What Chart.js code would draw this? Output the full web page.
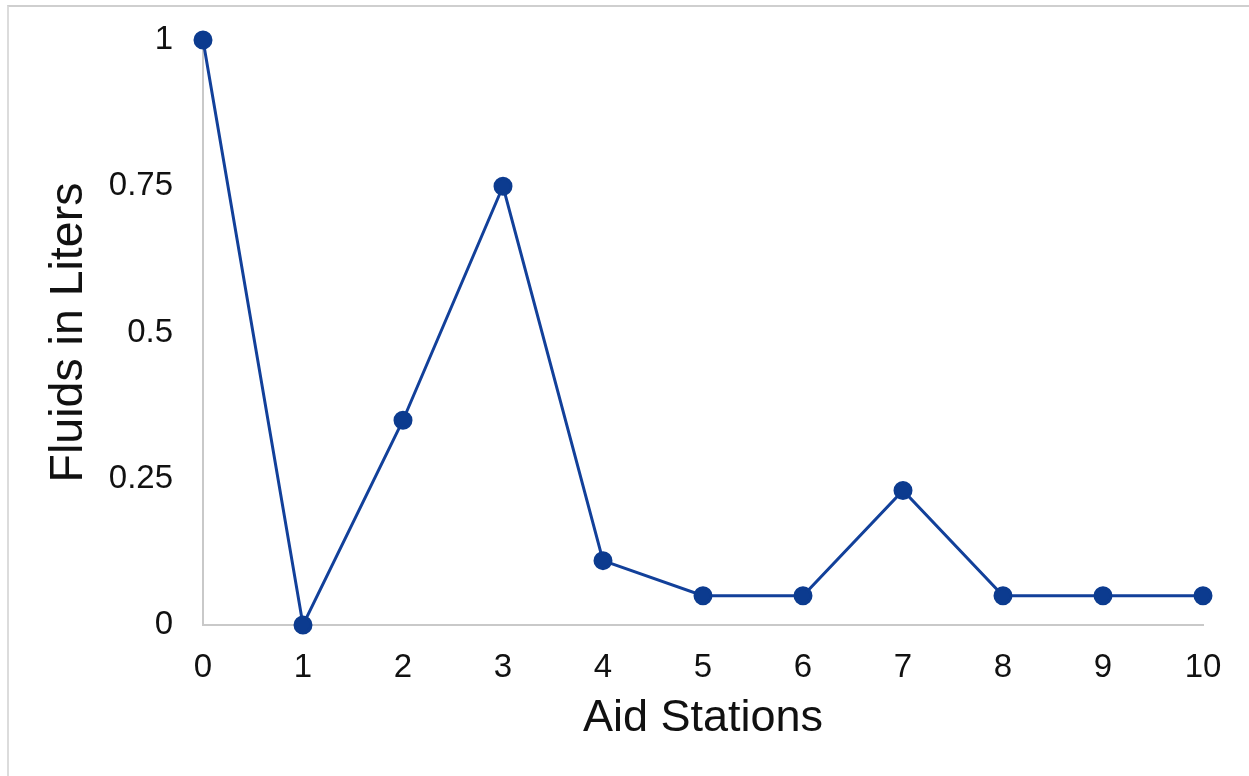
<!DOCTYPE html>
<html>
<head>
<meta charset="utf-8">
<title>Fluids in Liters by Aid Station</title>
<script src="https://cdn.jsdelivr.net/npm/chart.js@4.4.1/dist/chart.umd.min.js"></script>
<style>
  html, body { margin: 0; padding: 0; background: #ffffff; overflow: hidden; }
  #frame {
    position: absolute; left: 7px; top: 5px; width: 1300px; height: 800px;
    border-top: 2px solid #cfcfcf; border-left: 2px solid #dcdcdc;
  }
  #wrap { position: absolute; left: 0; top: 0; width: 1249px; height: 776px; }
</style>
</head>
<body>
<div id="frame"></div>
<div id="wrap"><canvas id="chart" width="1249" height="776"></canvas></div>
<script>
// Aid station numbers along the course
const stations = ['0', '1', '2', '3', '4', '5', '6', '7', '8', '9', '10'];
// Fluids taken at each station (liters)
const fluids = [1, 0, 0.35, 0.75, 0.11, 0.05, 0.05, 0.23, 0.05, 0.05, 0.05];
// Value-axis labels, bottom to top
const yTickLabels = ['0', '0.25', '0.5', '0.75', '1'];

const FONT = "'Liberation Sans', Arial, sans-serif";
const AXIS_GREY = '#c9c9c9';

new Chart(document.getElementById('chart'), {
  type: 'line',
  data: {
    labels: stations,
    datasets: [{
      data: fluids,
      borderColor: '#12409a',
      backgroundColor: '#0c3b8f',
      pointBackgroundColor: '#0c3b8f',
      pointBorderColor: '#0c3b8f',
      borderWidth: 3,
      pointRadius: 8,
      pointHoverRadius: 8,
      tension: 0,
      clip: false
    }]
  },
  options: {
    responsive: false,
    animation: false,
    events: [],
    layout: { padding: { left: 0, top: 40, right: 46, bottom: 0 } },
    plugins: { legend: { display: false }, tooltip: { enabled: false } },
    scales: {
      x: {
        type: 'category',
        offset: false,
        grid: { display: false, drawTicks: false },
        border: { display: true, color: AXIS_GREY, width: 2 },
        ticks: {
          color: '#111',
          font: { family: FONT, size: 33 },
          padding: 23,
          autoSkip: false,
          maxRotation: 0
        },
        title: {
          display: true,
          text: 'Aid Stations',
          color: '#111',
          font: { family: FONT, size: 45 },
          padding: { top: 0, bottom: 30 }
        },
        afterFit(scale) {
          scale.height = 151;
          scale.paddingLeft = 0;
          scale.paddingRight = 0;
        }
      },
      y: {
        min: 0,
        max: 1,
        grid: { display: false, drawTicks: false },
        border: { display: true, color: AXIS_GREY, width: 2 },
        ticks: {
          stepSize: 0.25,
          color: '#111',
          font: { family: FONT, size: 33 },
          padding: 30,
          callback: (value, index) => yTickLabels[index]
        },
        title: {
          display: true,
          text: 'Fluids in Liters',
          color: '#111',
          font: { family: FONT, size: 46.5 },
          padding: { top: 41, bottom: 0 }
        },
        afterFit(scale) {
          scale.width = 203;
          scale.paddingTop = 0;
          scale.paddingBottom = 0;
        }
      }
    }
  }
});
</script>
</body>
</html>
